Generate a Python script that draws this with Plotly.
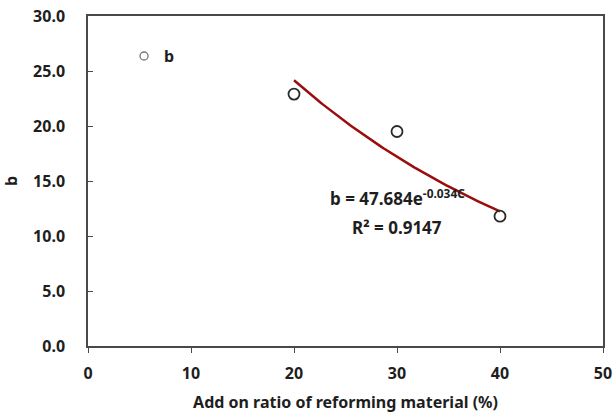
import numpy as np
import plotly.graph_objects as go

# measured data
ratio = [20, 30, 40]
b_values = [22.9, 19.5, 11.8]

# exponential fit b = A * exp(k * C)
fit_a = 47.684
fit_k = -0.034
fit_r2 = 0.9147

x_ticks = [0, 10, 20, 30, 40, 50]
y_ticks = [0, 5, 10, 15, 20, 25, 30]

fit_x = np.linspace(min(ratio), max(ratio), 100)
fit_y = fit_a * np.exp(fit_k * fit_x)

font = "Noto Sans"
ink = "#1e1e1e"
bold = dict(family=font, size=16, color=ink, weight="bold")

fig = go.Figure()
fig.add_trace(go.Scatter(
    x=fit_x, y=fit_y, mode="lines",
    line=dict(color="#9b0d0d", width=2.5),
    showlegend=False, hoverinfo="skip",
))
fig.add_trace(go.Scatter(
    x=ratio, y=b_values, mode="markers", name="b", showlegend=False,
    marker=dict(symbol="circle-open", size=11, color="#2a2a2a", line=dict(width=1.8)),
))
# legend entry with a smaller grey symbol
fig.add_trace(go.Scatter(
    x=[None], y=[None], mode="markers", name="b",
    marker=dict(symbol="circle-open", size=8, color="#777777", line=dict(width=1.3)),
))

fig.add_annotation(
    x=30.0, y=13.5, xref="x", yref="y", showarrow=False,
    text=f"b = {fit_a}e<sup>{fit_k}C</sup>",
    font=dict(family=font, size=17, color=ink, weight="bold"),
)
fig.add_annotation(
    x=30.0, y=10.8, xref="x", yref="y", showarrow=False,
    text=f"R² = {fit_r2}",
    font=dict(family=font, size=17, color=ink, weight="bold"),
)

fig.update_layout(
    width=613, height=414,
    margin=dict(l=88, r=10, t=16, b=68),
    paper_bgcolor="white", plot_bgcolor="white",
    font=bold,
    legend=dict(x=0.07, y=0.93, xanchor="left", yanchor="top",
                bgcolor="rgba(0,0,0,0)", itemwidth=30, font=bold),
    xaxis=dict(
        range=[0, 50], tickvals=x_ticks, ticktext=[str(v) for v in x_ticks],
        showgrid=False, zeroline=False, showline=True, mirror=True,
        linecolor="#4a4a4a", linewidth=1.5, automargin=False,
        ticks="outside", ticklen=5, tickcolor="#4a4a4a",
        tickfont=bold, ticklabelstandoff=7,
        title=dict(text="Add on ratio of reforming material (%)", font=bold, standoff=14),
    ),
    yaxis=dict(
        range=[0, 30], tickvals=y_ticks, ticktext=[f"{v:.1f}" for v in y_ticks],
        showgrid=False, zeroline=False, showline=True, mirror=True,
        linecolor="#4a4a4a", linewidth=1.5, automargin=False,
        ticks="inside", ticklen=5, tickcolor="#4a4a4a",
        tickfont=bold, ticklabelstandoff=18,
        title=dict(text="b", font=bold, standoff=14),
    ),
)

fig.write_html("out.html")
